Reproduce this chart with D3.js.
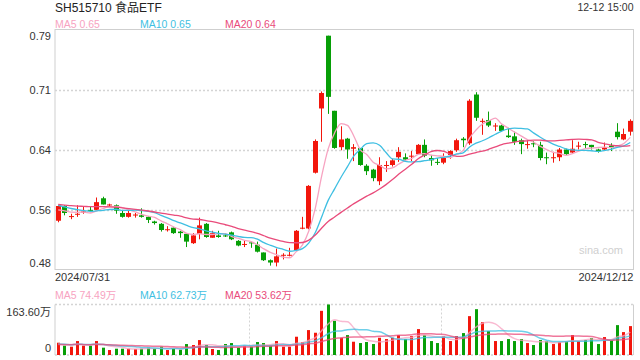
<!DOCTYPE html>
<html>
<head>
<meta charset="utf-8">
<script src="https://cdn.jsdelivr.net/npm/d3@7"></script>
<style>
  body { margin: 0; background: #fff; }
  svg { display: block; font-family: Arial, "Liberation Sans", "Noto Sans CJK SC", sans-serif; }
</style>
</head>
<body>
<svg id="chart" width="640" height="360"></svg>
<script>
// daily candles 2024/07/31 .. 2024/12/12 (90 sessions)
const opens = [
  .543,.562,.548,.551,.554,.557,.557,.572,.563,.563,
  .553,.548,.550,.550,.548,.542,.539,.531,.534,.529,
  .526,.514,.526,.539,.521,.524,.524,.528,.517,.512,
  .515,.512,.502,.492,.489,.498,.498,.505,.533,.533,
  .605,.688,.782,.685,.638,.649,.636,.637,.614,.609,
  .594,.614,.615,.625,.625,.626,.629,.641,.624,.619,
  .618,.628,.634,.649,.643,.706,.671,.673,.665,.666,
  .653,.652,.647,.641,.643,.641,.625,.624,.625,.635,
  .631,.639,.642,.641,.635,.635,.640,.658,.648,.658];
const highs = [
  .563,.563,.552,.563,.561,.561,.573,.574,.565,.564,
  .557,.557,.553,.559,.549,.543,.540,.536,.535,.530,
  .526,.527,.547,.540,.530,.530,.527,.529,.518,.517,
  .516,.516,.502,.493,.507,.501,.508,.531,.548,.589,
  .648,.710,.782,.685,.665,.650,.642,.637,.616,.610,
  .625,.620,.623,.638,.630,.633,.642,.648,.628,.624,
  .630,.634,.649,.651,.700,.709,.675,.684,.669,.667,
  .663,.658,.649,.647,.646,.645,.631,.632,.637,.636,
  .647,.645,.645,.641,.636,.644,.643,.669,.662,.674];
const lows = [
  .541,.550,.545,.548,.552,.554,.557,.564,.561,.552,
  .547,.547,.547,.547,.540,.538,.529,.529,.526,.521,
  .509,.513,.519,.521,.521,.521,.522,.518,.510,.509,
  .508,.502,.491,.485,.484,.493,.497,.503,.532,.532,
  .604,.645,.681,.636,.634,.623,.620,.614,.602,.594,
  .589,.606,.613,.619,.620,.620,.628,.625,.614,.615,
  .616,.623,.632,.638,.641,.672,.654,.664,.659,.658,
  .650,.641,.629,.636,.638,.621,.616,.618,.620,.628,
  .630,.635,.637,.635,.631,.633,.633,.648,.647,.653];
const closes = [
  .562,.553,.549,.552,.555,.556,.567,.564,.564,.556,
  .548,.553,.551,.548,.544,.540,.531,.532,.527,.527,
  .516,.524,.537,.522,.527,.522,.523,.519,.511,.513,
  .514,.503,.492,.489,.497,.499,.499,.530,.534,.588,
  .646,.708,.703,.637,.648,.635,.638,.615,.607,.598,
  .615,.615,.621,.632,.622,.627,.641,.627,.621,.618,
  .624,.633,.647,.647,.698,.676,.672,.666,.666,.659,
  .651,.645,.642,.642,.642,.624,.624,.625,.635,.629,
  .636,.640,.641,.638,.633,.638,.637,.651,.655,.672];
// volume, unit 万
const volumes = [
  39.8,30.1,26.9,45.2,30.1,30.1,45.2,23.7,16.1,20.4,
  20.4,20.4,19.4,20.4,23.7,20.4,26.9,16.1,20.4,17.2,
  35.5,32.3,48.4,32.3,19.4,16.1,35.5,38.7,23.7,30.1,
  26.9,42.0,38.7,30.1,45.2,26.9,26.9,59.2,42.0,80.7,
  72.1,143.1,163.6,110.8,55.9,64.5,43.0,38.7,42.0,35.5,
  55.9,51.6,55.9,64.5,51.6,61.3,83.9,64.5,45.2,38.7,
  61.3,45.2,61.3,71.0,125.9,148.4,106.5,77.5,45.2,45.2,
  51.6,45.2,51.6,38.7,32.3,48.4,45.2,35.5,42.0,45.2,
  64.5,45.2,48.4,54.9,35.5,58.1,48.4,96.8,74.2,93.6];
// sessions before the window, only used to warm up the moving averages
const priorCloses = [.568,.566,.563,.561,.564,.566,.565,.567,.564,.566,
  .573,.571,.568,.567,.566,.560,.557,.553,.553];
const priorVolumes = [35,30,28,40,33,29,31,36,30,34,32,38,30,35,33,36,31,34,38];

const priceTickVals = [0.48, 0.5575, 0.635, 0.7125, 0.79];
const priceTickLabels = ['0.48', '0.56', '0.64', '0.71', '0.79'];
const volTickVals = [0, 163.6];
const volTickLabels = ['0', '163.60万'];
const dateLabels = ['2024/07/31', '2024/12/12'];
const priceMaLabels = ['MA5 0.65', 'MA10 0.65', 'MA20 0.64'];
const volMaLabels = ['MA5 74.49万', 'MA10 62.73万', 'MA20 53.62万'];
const maPeriods = [5, 10, 20];
const maColors = ['#f7a3c1', '#3fbfe2', '#e94b7b'];

const UP = '#f2160c', DOWN = '#079f07', GRID = '#d4d4d4', BORDER = '#cfcfcf';
const left = 55, right = 633.5;
const mainTop = 29.5, mainBottom = 269.5;
const volTop = 304.5, volBottom = 355;

const svg = d3.select('#chart');
const idx = d3.range(closes.length);

const x = d3.scaleBand().domain(idx).range([left, right])
    .paddingInner(0.22).paddingOuter(0.11);
const cx = i => x(i) + x.bandwidth() / 2;
const yP = d3.scaleLinear().domain([0.48, 0.79]).range([mainBottom, mainTop]);
const yV = d3.scaleLinear().domain([0, 163.6]).range([volBottom, volTop]);

function movingAvg(series, prior, n) {
  let all = prior.concat(series);
  return series.map((d, i) => {
    let end = i + prior.length + 1;
    return d3.mean(all.slice(Math.max(0, end - n), end));
  });
}
const isUp = i => closes[i] >= opens[i];

// ---------- main panel frame + grid
svg.append('rect')
    .attr('x', left).attr('y', mainTop)
    .attr('width', right - left).attr('height', mainBottom - mainTop)
    .attr('fill', 'none').attr('stroke', BORDER);

svg.append('g').selectAll('line')
  .data(priceTickVals.slice(1, -1))
  .enter().append('line')
    .attr('x1', left).attr('x2', right)
    .attr('y1', d => Math.round(yP(d)) + 0.5).attr('y2', d => Math.round(yP(d)) + 0.5)
    .attr('stroke', GRID).attr('stroke-width', 1.3).attr('stroke-dasharray', '2,2');

let yAxis = svg.append('g')
    .attr('transform', `translate(${left},0)`)
    .call(d3.axisLeft(yP).tickValues(priceTickVals)
      .tickFormat((d, i) => priceTickLabels[i]).tickSize(0).tickPadding(4));
yAxis.select('.domain').remove();
yAxis.selectAll('text')
    .attr('y', (d, i) => i === 0 ? -6.5 : (i === priceTickVals.length - 1 ? 6 : 0))
    .style('font-size', '11px').style('fill', '#333')
    .style('font-family', 'Arial, "Liberation Sans", sans-serif');

// watermark
svg.append('text')
    .attr('x', 623).attr('y', 254)
    .attr('text-anchor', 'end')
    .style('font-size', '11px').style('fill', '#cfcfcf')
    .text('sina.com');

// ---------- candles
let candle = svg.append('g').selectAll('.candle')
  .data(idx)
  .enter().append('g')
    .attr('class', 'candle');

candle.append('line')
    .attr('x1', i => Math.round(cx(i) - 2.5) + 2.5)
    .attr('x2', i => Math.round(cx(i) - 2.5) + 2.5)
    .attr('y1', i => yP(highs[i]))
    .attr('y2', i => yP(lows[i]))
    .attr('stroke', i => isUp(i) ? UP : DOWN);

candle.append('rect')
    .attr('x', i => Math.round(cx(i) - 2.5))
    .attr('y', i => yP(Math.max(opens[i], closes[i])))
    .attr('width', 5)
    .attr('height', i => Math.max(1, Math.abs(yP(opens[i]) - yP(closes[i]))))
    .attr('fill', i => isUp(i) ? UP : DOWN);

// ---------- price moving averages
let line = d3.line()
    .x((d, i) => cx(i))
    .curve(d3.curveMonotoneX);

maPeriods.forEach((n, k) => {
  let ma = movingAvg(closes, priorCloses, n);
  svg.append('path')
      .attr('d', line.y(d => yP(d))(ma))
      .attr('fill', 'none')
      .attr('stroke', maColors[k])
      .attr('stroke-width', 1.3);
});

// legends
svg.append('g').selectAll('text')
  .data(priceMaLabels)
  .enter().append('text')
    .attr('x', (d, i) => left + i * 85)
    .attr('y', 28)
    .style('font-size', '10.5px')
    .style('fill', (d, i) => maColors[i])
    .text(d => d);

svg.append('g').selectAll('text')
  .data(volMaLabels)
  .enter().append('text')
    .attr('x', (d, i) => left + i * 85)
    .attr('y', 299)
    .style('font-size', '10.5px')
    .style('fill', (d, i) => maColors[i])
    .text(d => d);

// header
svg.append('text')
    .attr('x', left).attr('y', 12)
    .style('font-size', '12px').style('fill', '#222')
    .text('SH515710 食品ETF');

svg.append('text')
    .attr('x', right).attr('y', 11)
    .attr('text-anchor', 'end')
    .style('font-size', '10.5px').style('fill', '#333')
    .text('12-12 15:00');

// date labels
svg.append('g').selectAll('text')
  .data(dateLabels)
  .enter().append('text')
    .attr('x', (d, i) => i === 0 ? left : right)
    .attr('y', 281)
    .attr('text-anchor', (d, i) => i === 0 ? 'start' : 'end')
    .style('font-size', '11px').style('fill', '#333')
    .text(d => d);

// ---------- volume panel
[volTop, volBottom].forEach(yy => {
  svg.append('line')
      .attr('x1', left).attr('x2', right)
      .attr('y1', yy).attr('y2', yy)
      .attr('stroke', GRID).attr('stroke-width', 1.3).attr('stroke-dasharray', '2,2');
});
[left, right].forEach(xx => {
  svg.append('line')
      .attr('x1', xx).attr('x2', xx)
      .attr('y1', volTop).attr('y2', volBottom)
      .attr('stroke', BORDER);
});
[30, 60].forEach(i => {
  svg.append('line')
      .attr('x1', Math.round(x(i)) + 0.5).attr('x2', Math.round(x(i)) + 0.5)
      .attr('y1', volTop).attr('y2', volBottom)
      .attr('stroke', GRID).attr('stroke-dasharray', '2,2');
});

svg.append('g').selectAll('rect')
  .data(idx)
  .enter().append('rect')
    .attr('x', i => Math.round(cx(i) - 1.5))
    .attr('y', i => yV(volumes[i]))
    .attr('width', 3)
    .attr('height', i => volBottom - yV(volumes[i]))
    .attr('fill', i => isUp(i) ? UP : DOWN);

maPeriods.forEach((n, k) => {
  let ma = movingAvg(volumes, priorVolumes, n);
  svg.append('path')
      .attr('d', line.y(d => yV(d))(ma))
      .attr('fill', 'none')
      .attr('stroke', maColors[k])
      .attr('stroke-opacity', 0.75)
      .attr('stroke-width', 1.5);
});

let vAxis = svg.append('g')
    .attr('transform', `translate(${left},0)`)
    .call(d3.axisLeft(yV).tickValues(volTickVals)
      .tickFormat((d, i) => volTickLabels[i]).tickSize(0).tickPadding(4));
vAxis.select('.domain').remove();
vAxis.selectAll('text')
    .attr('y', (d, i) => i === 0 ? -7 : 7)
    .style('font-size', '11px').style('fill', '#333')
    .style('font-family', 'Arial, "Liberation Sans", "Noto Sans CJK SC", sans-serif');
</script>
</body>
</html>
